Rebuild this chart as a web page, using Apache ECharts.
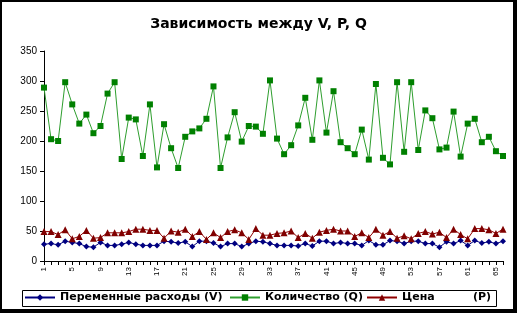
<!DOCTYPE html>
<html>
<head>
<meta charset="utf-8">
<script src="https://cdn.jsdelivr.net/npm/echarts@6/dist/echarts.min.js"></script>
<style>
html,body{margin:0;padding:0;background:#fff;}
#c{width:517px;height:313px;}
</style>
</head>
<body>
<div id="c"></div>
<script>
const categories = Array.from({length: 66}, (_, i) => String(i + 1));
const yTicks = [0, 50, 100, 150, 200, 250, 300, 350];
const seriesNames = ['Переменные расходы (V)', 'Количество (Q)', 'Цена          (P)'];
const valuesV = [28,29,27,33,31,29,24,23,31,26,26,28,31,28,26,26,26,33,32,30,
  32,24,33,33,30,24,29,29,24,29,33,32,29,26,26,26,25,29,25,33,
  33,29,31,29,29,26,34,27,27,34,33,29,33,33,29,29,23,32,29,34,
  26,34,30,32,29,33];
const valuesQ = [289,203,200,298,261,229,244,213,225,279,298,170,239,236,175,261,156,228,188,155,
  207,216,221,237,291,155,206,248,199,225,224,212,301,204,178,193,226,272,202,301,
  214,283,198,188,178,219,169,295,172,161,298,182,298,185,251,238,186,189,249,174,
  229,237,198,207,183,175];
const valuesP = [49,49,44,52,37,41,51,38,39,47,47,47,49,53,53,51,51,38,50,48,
  53,41,49,36,47,39,49,52,47,36,54,43,43,46,47,50,39,46,38,48,
  51,53,50,50,41,47,39,53,43,49,38,42,37,46,49,45,48,39,53,44,
  37,54,54,52,46,53];

const chart = echarts.init(document.getElementById('c'), null, {renderer: 'canvas'});
const FONT = '"Liberation Sans", Arial, sans-serif';
const BFONT = '"DejaVu Sans", "Liberation Sans", sans-serif';
const legendLefts = [24, 229, 366];
const legendBase = {
  top: 292, padding: 0, orient: 'horizontal',
  itemWidth: 30, itemHeight: 8, itemGap: 0,
  textStyle: {fontFamily: BFONT, fontSize: 11, fontWeight: 'bold', color: '#000'}
};
chart.setOption({
  animation: false,
  backgroundColor: '#fff',
  textStyle: {fontFamily: FONT},
  title: {
    text: 'Зависимость между V, P, Q',
    left: 'center', top: 12,
    textStyle: {fontFamily: BFONT, fontSize: 14, fontWeight: 'bold', color: '#000'}
  },
  grid: {left: 44, right: 14, top: 51, bottom: 52, containLabel: false},
  xAxis: {
    type: 'category', data: categories, boundaryGap: false,
    axisLine: {lineStyle: {color: '#000', width: 1}},
    axisTick: {interval: 0, length: 4, lineStyle: {color: '#000'}},
    axisLabel: {interval: 3, rotate: 90, fontSize: 8, color: '#000', margin: 6, fontFamily: FONT},
    splitLine: {show: false}
  },
  yAxis: {
    type: 'value', min: yTicks[0], max: yTicks[yTicks.length - 1], interval: 50,
    axisLine: {show: true, lineStyle: {color: '#000', width: 1}},
    axisTick: {show: true, length: 4, lineStyle: {color: '#000'}},
    axisLabel: {fontSize: 10, color: '#000', margin: 7, fontFamily: FONT},
    splitLine: {show: false}
  },
  legend: seriesNames.map((n, i) => Object.assign({}, legendBase, {data: [n], left: legendLefts[i]})),
  series: [
    {name: seriesNames[0], type: 'line', data: valuesV, symbol: 'diamond', symbolSize: 6, showAllSymbol: true,
     itemStyle: {color: '#000080'}, lineStyle: {color: '#000080', width: 1}},
    {name: seriesNames[1], type: 'line', data: valuesQ, symbol: 'rect', symbolSize: 6, showAllSymbol: true,
     itemStyle: {color: '#008000'}, lineStyle: {color: '#2e9e2e', width: 1}},
    {name: seriesNames[2], type: 'line', data: valuesP, symbol: 'triangle', symbolSize: 7, showAllSymbol: true,
     itemStyle: {color: '#800000'}, lineStyle: {color: '#900000', width: 1}}
  ],
  graphic: [
    {type: 'rect', shape: {x: 22.5, y: 290.5, width: 474, height: 16}, style: {fill: 'none', stroke: '#000', lineWidth: 1}},
    {type: 'rect', shape: {x: 0, y: 0, width: 517, height: 2}, style: {fill: '#000'}},
    {type: 'rect', shape: {x: 0, y: 0, width: 2, height: 313}, style: {fill: '#000'}},
    {type: 'rect', shape: {x: 513, y: 0, width: 4, height: 313}, style: {fill: '#000'}},
    {type: 'rect', shape: {x: 0, y: 309, width: 517, height: 4}, style: {fill: '#000'}}
  ]
});
</script>
</body>
</html>
